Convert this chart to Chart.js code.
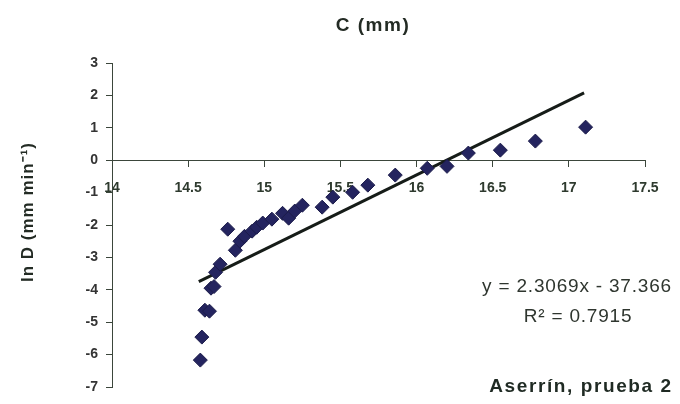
<!DOCTYPE html>
<html>
<head>
<meta charset="utf-8">
<script src="https://cdn.jsdelivr.net/npm/chart.js@4.4.0/dist/chart.umd.min.js"></script>
<style>
  html, body { margin: 0; padding: 0; background: #fff; }
  #wrap { width: 680px; height: 404px; }
</style>
</head>
<body>
<div id="wrap"><canvas id="lnDChart" width="680" height="404"></canvas></div>
<script>
// C (mm) vs ln D readings
const cValues = [14.58, 14.59, 14.61, 14.64, 14.65, 14.67, 14.68, 14.71, 14.76, 14.81, 14.84,
    14.87, 14.92, 14.95, 14.99, 15.05, 15.12, 15.16, 15.20, 15.25, 15.38, 15.45, 15.58,
    15.68, 15.86, 16.07, 16.20, 16.34, 16.55, 16.78, 17.11];
const lnDValues = [-6.17, -5.46, -4.63, -4.66, -3.95, -3.90, -3.46, -3.21, -2.13, -2.78, -2.50,
    -2.35, -2.19, -2.07, -1.94, -1.82, -1.64, -1.79, -1.57, -1.39, -1.45, -1.14, -0.99,
    -0.77, -0.46, -0.25, -0.19, 0.22, 0.31, 0.59, 1.02];

// trend line end points
const trendX = [14.57, 17.10];
const trendY = [-3.75, 2.08];

const xTicks = [14, 14.5, 15, 15.5, 16, 16.5, 17, 17.5];
const yTicks = [3, 2, 1, 0, -1, -2, -3, -4, -5, -6, -7];

const chartTitle = 'C (mm)';
const yTitle = 'ln D (mm min\u207B\u00B9)';
const equationText = 'y = 2.3069x - 37.366';
const r2Text = 'R\u00B2 = 0.7915';
const noteText = 'Aserrín, prueba 2';

const axisColor = '#3b463b';

// free text: title, axis title, equation and note
const textPlugin = {
    id: 'freeText',
    afterDraw(chart) {
        const ctx = chart.ctx;
        ctx.save();
        ctx.fillStyle = '#232b24';
        ctx.textAlign = 'center';
        ctx.textBaseline = 'middle';

        ctx.letterSpacing = '1.5px';
        ctx.font = 'bold 19px Arial, "Liberation Sans", sans-serif';
        ctx.fillText(chartTitle, 373, 26);

        ctx.letterSpacing = '0.8px';
        ctx.font = '19px Arial, "Liberation Sans", sans-serif';
        ctx.fillStyle = '#2f362f';
        ctx.fillText(equationText, 577, 287);
        ctx.fillText(r2Text, 578, 317);

        ctx.letterSpacing = '1.6px';
        ctx.font = 'bold 19px Arial, "Liberation Sans", sans-serif';
        ctx.fillStyle = '#1f2a23';
        ctx.fillText(noteText, 581, 387);

        ctx.translate(28, 212);
        ctx.rotate(-Math.PI / 2);
        ctx.letterSpacing = '1px';
        ctx.font = 'bold 17px Arial, "Liberation Sans", sans-serif';
        ctx.fillStyle = '#232b24';
        ctx.fillText(yTitle, 0, 0);
        ctx.restore();
    }
};

const points = cValues.map((c, i) => ({ x: c, y: lnDValues[i] }));
const trend = trendX.map((c, i) => ({ x: c, y: trendY[i] }));

const ctx = document.getElementById('lnDChart').getContext('2d');
new Chart(ctx, {
    type: 'scatter',
    data: {
        datasets: [
            {
                label: 'ln D',
                data: points,
                pointStyle: 'rectRot',
                pointRadius: 7,
                pointHoverRadius: 7,
                backgroundColor: '#24245f',
                borderColor: '#1c1c4a',
                borderWidth: 1,
            },
            {
                type: 'line',
                label: 'Lineal',
                data: trend,
                borderColor: '#161c18',
                borderWidth: 3,
                pointRadius: 0,
                fill: false,
            },
        ],
    },
    options: {
        responsive: false,
        animation: false,
        events: [],
        layout: {
            padding: { left: 0, top: 63, right: 35, bottom: 17 },
        },
        scales: {
            x: {
                type: 'linear',
                position: { y: 0 },
                min: 14,
                max: 17.5,
                afterBuildTicks: (scale) => {
                    scale.ticks = xTicks.map((v) => ({ value: v }));
                },
                grid: {
                    drawOnChartArea: false,
                    tickLength: 6,
                    color: axisColor,
                },
                border: { color: axisColor, width: 1 },
                ticks: {
                    padding: 14,
                    maxRotation: 0,
                    color: '#2e3a2e',
                    font: { family: 'Arial, "Liberation Sans", sans-serif', size: 14, weight: 'bold' },
                    callback: (v) => String(v),
                },
            },
            y: {
                type: 'linear',
                position: 'left',
                min: -7,
                max: 3,
                afterBuildTicks: (scale) => {
                    scale.ticks = yTicks.map((v) => ({ value: v }));
                },
                afterFit: (scale) => {
                    scale.width = 112;
                },
                grid: {
                    drawOnChartArea: false,
                    tickLength: 6,
                    color: axisColor,
                },
                border: { color: axisColor, width: 1 },
                ticks: {
                    padding: 8,
                    color: '#333',
                    font: { family: 'Arial, "Liberation Sans", sans-serif', size: 14, weight: 'bold' },
                },
            },
        },
        plugins: {
            legend: { display: false },
            tooltip: { enabled: false },
            title: { display: false },
        },
    },
    plugins: [textPlugin],
});
</script>
</body>
</html>
